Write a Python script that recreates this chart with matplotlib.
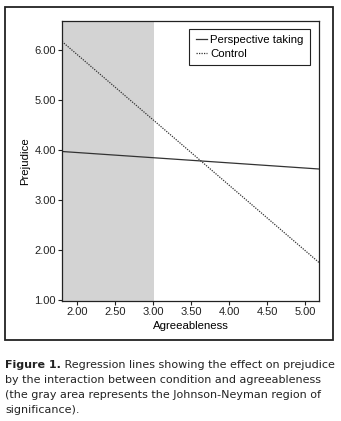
import matplotlib.pyplot as plt
from matplotlib.patches import Rectangle
from matplotlib.lines import Line2D

# Regressionslinien (Endpunkte)
agree = [1.80, 5.18]
perspective = [3.97, 3.62]
control = [6.17, 1.75]
jn_region = [1.80, 3.01]

x_ticks = [2.0, 2.5, 3.0, 3.5, 4.0, 4.5, 5.0]
y_ticks = [1.0, 2.0, 3.0, 4.0, 5.0, 6.0]

caption_bold = "Figure 1."
caption_rest = (" Regression lines showing the effect on prejudice\n"
                "by the interaction between condition and agreeableness\n"
                "(the gray area represents the Johnson-Neyman region of\n"
                "significance).")

fig = plt.figure(figsize=(3.41, 4.21), dpi=100)
W, H = 341, 421

# Rahmen um die Grafik
fig.patches.append(Rectangle((5 / W, 1 - 340 / H), 328 / W, 333 / H,
                             transform=fig.transFigure, fill=False,
                             edgecolor='#222222', linewidth=1.3))

ax = fig.add_axes([62 / W, 1 - 301 / H, 257 / W, 280 / H])
ax.axvspan(jn_region[0], jn_region[1], color='#d3d3d3', linewidth=0)
ax.plot(agree, perspective, color='#333333', linewidth=0.9)
ax.plot(agree, control, color='#333333', linewidth=0.9, linestyle=(0, (1, 1)))

ax.set_xlim(1.80, 5.18)
ax.set_ylim(0.98, 6.58)
ax.set_xticks(x_ticks)
ax.set_xticklabels([f"{v:.2f}" for v in x_ticks])
ax.set_yticks(y_ticks)
ax.set_yticklabels([f"{v:.2f}" for v in y_ticks])
ax.tick_params(direction='out', length=3, width=0.8, labelsize=8, pad=1.5,
               colors='#222222')
for s in ax.spines.values():
    s.set_linewidth(0.9)
    s.set_color('#222222')
for lab in ax.get_xticklabels() + ax.get_yticklabels():
    lab.set_family('Liberation Sans')

ax.set_xlabel("Agreeableness", fontsize=8.2, family='Liberation Sans', labelpad=3)
ax.set_ylabel("Prejudice", fontsize=8.2, family='Liberation Sans', labelpad=3)

handles = [Line2D([], [], color='#333333', linewidth=0.9),
           Line2D([], [], color='#333333', linewidth=0.9, linestyle=(0, (1, 1)))]
leg = ax.legend(handles, ["Perspective taking", "Control"], loc='upper right',
                bbox_to_anchor=(0.965, 0.971), borderaxespad=0,
                fancybox=False, framealpha=1,
                edgecolor='#222222', handlelength=1.0, handletextpad=0.3,
                borderpad=0.55, labelspacing=0.3,
                prop={'family': 'Liberation Sans', 'size': 8.2})
leg.get_frame().set_linewidth(0.8)

# Bildunterschrift
fs = 8.0
t1 = fig.text(5 / W, 1 - 368 / H, caption_bold, fontsize=fs, weight='bold',
              color='#222222', va='baseline')
lines = caption_rest.split("\n")
fig.canvas.draw()
bb = t1.get_window_extent()
fig.text(bb.x1 / W, 1 - 368 / H, lines[0], fontsize=fs, color='#222222',
         va='baseline')
for i, line in enumerate(lines[1:]):
    fig.text(5 / W, 1 - (368 + 15 * (i + 1)) / H, line, fontsize=fs,
             color='#222222', va='baseline')

fig.savefig("out.png", dpi=100)
